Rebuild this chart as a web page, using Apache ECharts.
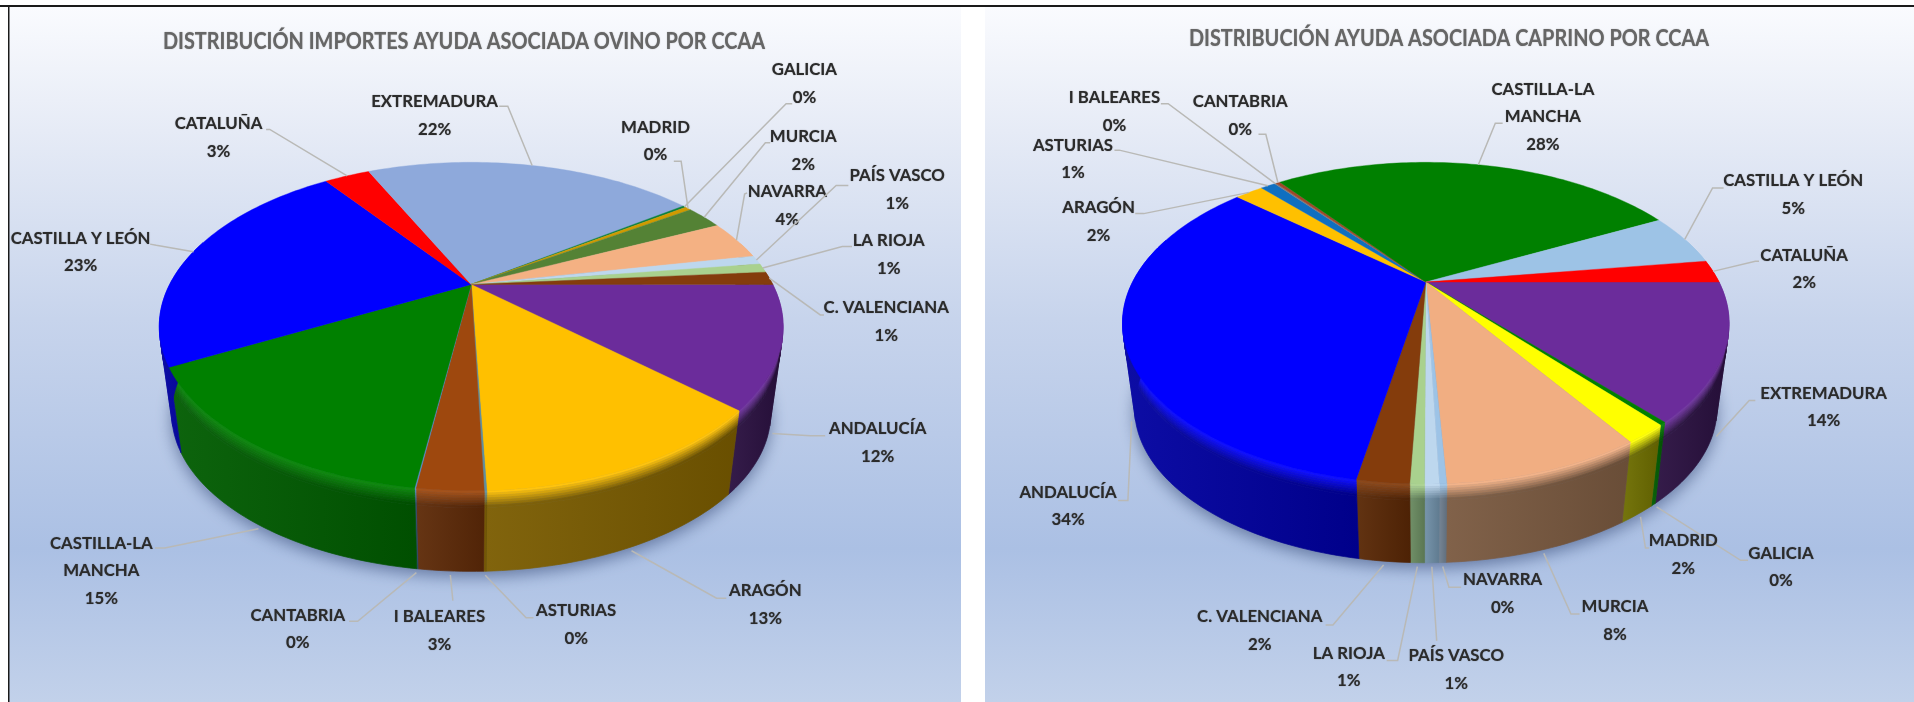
<!DOCTYPE html>
<html><head><meta charset="utf-8">
<style>html,body{margin:0;padding:0;background:#fff}#c{width:1914px;height:702px;filter:blur(.55px)}</style>
<script src="https://cdn.jsdelivr.net/npm/echarts@6/dist/echarts.min.js"></script>
</head><body><div id="c"></div>
<script>
// ---------- data ----------
const namesOvino = ['ANDALUCÍA','ARAGÓN','ASTURIAS','I BALEARES','CANTABRIA','CASTILLA-LA\nMANCHA','CASTILLA Y LEÓN','CATALUÑA','EXTREMADURA','GALICIA','MADRID','MURCIA','NAVARRA','PAÍS VASCO','LA RIOJA','C. VALENCIANA'];
const valuesOvino = [11.9,12.5,0.1,2.7,0.05,14.9,23.0,3.0,21.9,0.2,0.4,2.4,3.9,0.9,0.9,1.3];
const namesCaprino = ['EXTREMADURA','GALICIA','MADRID','MURCIA','NAVARRA','PAÍS VASCO','LA RIOJA','C. VALENCIANA','ANDALUCÍA','ARAGÓN','ASTURIAS','I BALEARES','CANTABRIA','CASTILLA-LA\nMANCHA','CASTILLA Y LEÓN','CATALUÑA'];
const valuesCaprino = [13.6,0.3,1.9,8.4,0.3,0.6,0.6,2.2,33.7,1.9,1.0,0.1,0.3,27.7,5.3,2.3];
// ---------- styles ----------
const colorsOvino = ['#6B2C9B','#FFC000','#5F8F9F','#9E480E','#5A8FD0','#008000','#0000FF','#FF0000','#8EA9DB','#0A8040','#D09A00','#548235','#F4B183','#BDD7EE','#A9D18E','#843C0C'];
const wallsOvino  = ['#2A1040','#7A5C00','#7A5C00','#5E2A08','#30507A','#005C00','#0000A0','#900000','#50607A','#055020','#705000','#304A1E','#6E4A32','#708090','#6A8A60','#5A2806'];
const colorsCaprino = ['#6B2C9B','#008000','#FFFF00','#F1AE82','#9DC3E6','#BDD7EE','#A9D18E','#843C0C','#0000FF','#FFC000','#0F6FC0','#7F7F7F','#A0482A','#008000','#9DC3E6','#FF0000'];
const wallsCaprino  = ['#2A1040','#005C00','#6E6E00','#7A5A40','#708090','#708FA8','#6A8A60','#5A2806','#0000A0','#7A5C00','#0A4070','#444444','#5E2A08','#005C00','#60788C','#900000'];
const K = 1914/1568;
// label layout, in reference thumbnail units: text centre x, first line y, elbow x,y, end x,y
const layoutOvino = [[719,351,664,357,676,357],[627,484,587,490,595,490],[472,500,431,506,437,506],[360,505,371,492,371,492],[244,504,293,509,286,509],[83,445,135,449,127,449],[66,195,128,201,123,200],[179,101,221,106,218,106],[356,83,416,87,409,87],[659,57,644,85,649,85],[537,104,558,132,552,132],[658,112,627,117,631,117],[645,157,610,159,612,158],[735,144,685,152,695,152],[728,197,690,202,698,202],[726,252,672,258,675,258]];
const layoutCaprino = [[1494,322,1433,328,1438,328],[1459,453,1426,459,1432,459],[1379,443,1348,449,1351,449],[1323,497,1287,503,1294,503],[1231,475,1187,481,1197,481],[1193,537,1177,525,1177,525],[1105,535,1145,541,1136,541],[1032,505,1092,512,1086,512],[875,403,924,410,916,410],[900,170,937,175,930,175],[879,119,917,123,913,123],[913,80,957,85,951,85],[1016,83,1037,110,1031,110],[1264,73,1225,101,1231,101],[1469,148,1403,154,1412,154],[1478,209,1438,214,1441,214]];
const geoOvino = {cx:471.2,cy:284.4,A:301.5,B:153.4,p:.2565,s:.96,cy2:373.3};
const geoCaprino = {cx:1425.8,cy:282,A:293.2,B:150.3,p:.256,s:.96,cy2:368.8};
const FONT = 'Lato,"Open Sans",sans-serif';

function proj(g,th,bottom){
  const X=Math.cos(th),Y=Math.sin(th),w=1-g.p*Y;
  return bottom ? [g.cx+g.s*g.A*X/w, g.cy2+g.s*g.B*Y/w] : [g.cx+g.A*X/w, g.cy+g.B*Y/w];
}
function hex(c){return [1,3,5].map(i=>parseInt(c.substr(i,2),16));}
function mixHex(a,b,t){const x=hex(a),y=hex(b);return '#'+x.map((v,i)=>Math.round(v+(y[i]-v)*t).toString(16).padStart(2,'0')).join('');}
function spans(vals){const tot=vals.reduce((a,b)=>a+b,0);let c=0;return vals.map(v=>{const a=c/tot*2*Math.PI;c+=v;return [a,c/tot*2*Math.PI];});}

const BANDS=[0,.03,.06,.09,.12,.15,.18,.21,1];
function wallSeries(names,vals,cols,walls,g){
  const sp=spans(vals);
  return {type:'custom',coordinateSystem:'none',silent:true,z:3,
    data:vals.map((v,i)=>({name:names[i].replace('\n',' '),value:v})),
    renderItem(params){
      const i=params.dataIndex,[a0,a1]=sp[i],kids=[];
      const lerp=(th,u)=>{const p=proj(g,th,false),q=proj(g,th,true);return [p[0]+(q[0]-p[0])*u,p[1]+(q[1]-p[1])*u];};
      const wl=mixHex(walls[i],'#FFFFFF',0.05), wr=mixHex(walls[i],'#000000',0.14);
      const tc=mixHex(cols[i],'#FFFFFF',.06);
      // walk the rim; separate runs that face the viewer from those turned away
      const n=Math.max(2,Math.ceil((a1-a0)/0.02));
      const ths=[];for(let k=0;k<=n;k++)ths.push(a0+(a1-a0)*k/n);
      const keep=ths.filter(t=>Math.sin(t)>-0.3);
      if(keep.length<2)return {type:'group',children:[]};
      const sign=(t,t2)=>{const p=lerp(t,0),p2=lerp(t2,0),q=lerp(t,1);
        return ((p2[0]-p[0])*(q[1]-p[1])-(p2[1]-p[1])*(q[0]-p[0]))>=0;};
      const runs=[];let run=[keep[0]],cur=null;
      for(let k=0;k<keep.length-1;k++){
        const s=sign(keep[k],keep[k+1]);
        if(cur!==null&&s!==cur){runs.push(run);run=[keep[k]];}
        run.push(keep[k+1]);cur=s;
      }
      runs.push(run);
      let xmin=1e9,xmax=-1e9;
      keep.forEach(t=>{[lerp(t,0),lerp(t,1)].forEach(p=>{xmin=Math.min(xmin,p[0]);xmax=Math.max(xmax,p[0]);});});
      if(xmax-xmin<1)xmax=xmin+1;
      runs.forEach(r=>{
        for(let b=0;b<BANDS.length-1;b++){
          const u0=BANDS[b],u1=BANDS[b+1],m=Math.min(1,u0/.18);
          const pts=r.map(t=>lerp(t,u0)).concat(r.slice().reverse().map(t=>lerp(t,u1)));
          const fill={type:'linear',x:xmin,y:0,x2:xmax,y2:0,global:true,
            colorStops:[{offset:0,color:mixHex(tc,wl,m)},{offset:1,color:mixHex(tc,wr,m)}]};
          kids.push({type:'polygon',shape:{points:pts},style:{fill:fill,stroke:fill,lineWidth:.7},silent:true});
        }
      });
      return {type:'group',children:kids};
    }};
}
function shadowSeries(g){
  const pts=[];for(let i=0;i<120;i++)pts.push(proj(g,i/120*2*Math.PI,true));
  return {type:'custom',coordinateSystem:'none',silent:true,z:2,data:[0],
    renderItem(){return {type:'polygon',shape:{points:pts},style:{fill:'#6f84ad',shadowBlur:16,shadowColor:'rgba(60,80,125,.65)',shadowOffsetY:5}};}};
}
function topSeries(names,vals,cols,g){
  const sp=spans(vals);
  return {type:'custom',coordinateSystem:'none',silent:true,z:4,
    data:vals.map((v,i)=>({name:names[i].replace('\n',' '),value:v})),
    renderItem(params){
      const i=params.dataIndex,[a0,a1]=sp[i],pts=[[g.cx,g.cy]];
      const n=Math.max(2,Math.ceil((a1-a0)/0.02));
      for(let k=0;k<=n;k++)pts.push(proj(g,a0+(a1-a0)*k/n,false));
      return {type:'polygon',shape:{points:pts},style:{fill:cols[i],stroke:cols[i],lineWidth:.4}};
    }};
}
function labelSeries(names,vals,layout,g){
  const sp=spans(vals);
  return {type:'custom',coordinateSystem:'none',silent:true,z:5,
    data:vals.map((v,i)=>({name:names[i].replace('\n',' '),value:v})),
    renderItem(params,api){
      const i=params.dataIndex,[a0,a1]=sp[i],m=(a0+a1)/2,L=layout[i];
      const front=Math.sin(m)>0.12;
      const an=proj(g,m,front);
      const dx=an[0]-g.cx,dy=an[1]-(front?g.cy2:g.cy),d=Math.hypot(dx,dy)||1;
      const start=[an[0]+dx/d*(front?4:0),an[1]+dy/d*(front?4:0)];
      const lines=names[i].split('\n').concat([Math.round(api.value(0))+'%']);
      const kids=[{type:'polyline',shape:{points:[start,[L[2]*K,L[3]*K],[L[4]*K,L[5]*K]]},
        style:{fill:null,stroke:'#b9b9b6',lineWidth:1.5}}];
      lines.forEach((t,j)=>kids.push({type:'text',x:L[0]*K,y:(L[1]+j*22.6)*K,scaleX:.96,style:{text:t,x:0,y:0,align:'center',verticalAlign:'middle',
        font:'bold 17.5px '+FONT,fill:'#2b2b2b',textShadowBlur:1.2,textShadowColor:'rgba(40,40,40,.5)'}}));
      return {type:'group',children:kids};
    }};
}
const panelGrad={type:'linear',x:0,y:0,x2:0,y2:1,colorStops:[{offset:0,color:'#fafbfe'},{offset:.18,color:'#e6ebf6'},{offset:.45,color:'#c7d4ec'},{offset:.78,color:'#abc0e4'},{offset:1,color:'#c2d1ea'}]};
const chart=echarts.init(document.getElementById('c'),null,{renderer:'canvas'});
const titleStyle=t=>({text:t,x:0,y:0,align:'center',verticalAlign:'middle',font:'bold 23.5px '+FONT,fill:'#666666',textShadowBlur:1.2,textShadowColor:'rgba(70,70,70,.5)'});
chart.setOption({
  animation:false,backgroundColor:'#ffffff',
  graphic:[
    {type:'rect',z:-10,shape:{x:8,y:6,width:953,height:696},style:{fill:panelGrad}},
    {type:'rect',z:-10,shape:{x:985,y:6,width:929,height:696},style:{fill:panelGrad}},
    {type:'rect',z:-9,shape:{x:0,y:5,width:1914,height:2},style:{fill:'#1a1a1a'}},
    {type:'rect',z:-9,shape:{x:8,y:5,width:1.5,height:697},style:{fill:'#1a1a1a'}},
    {type:'text',z:10,x:464,y:41.5,scaleX:.847,style:titleStyle('DISTRIBUCIÓN IMPORTES AYUDA ASOCIADA OVINO POR CCAA')},
    {type:'text',z:10,x:1449,y:38,scaleX:.847,style:titleStyle('DISTRIBUCIÓN AYUDA ASOCIADA CAPRINO POR CCAA')}
  ],
  series:[
    shadowSeries(geoOvino),wallSeries(namesOvino,valuesOvino,colorsOvino,wallsOvino,geoOvino),topSeries(namesOvino,valuesOvino,colorsOvino,geoOvino),labelSeries(namesOvino,valuesOvino,layoutOvino,geoOvino),
    shadowSeries(geoCaprino),wallSeries(namesCaprino,valuesCaprino,colorsCaprino,wallsCaprino,geoCaprino),topSeries(namesCaprino,valuesCaprino,colorsCaprino,geoCaprino),labelSeries(namesCaprino,valuesCaprino,layoutCaprino,geoCaprino)
  ]
});
</script></body></html>
